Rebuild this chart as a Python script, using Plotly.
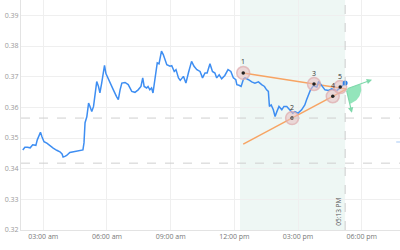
import plotly.graph_objects as go
import numpy as np
import pandas as pd

DAY = "2024-01-01 "

# ---- price series (time of day, price) ----
times = ["02:02","02:08","02:15","02:23","02:30","02:39","02:43","02:46","02:52","02:56",
         "02:58","03:02","03:10","03:19","03:24","03:28","03:38","03:47","03:53","03:56",
         "04:01","04:06","04:15","04:24","04:34","04:43","04:52","04:55","04:58","05:03",
         "05:05","05:08","05:12","05:17","05:22","05:26","05:31","05:36","05:40","05:45",
         "05:50","05:53","05:57","06:02","06:09","06:18","06:27","06:32","06:37","06:42",
         "06:51","07:00","07:10","07:19","07:28","07:36","07:41","07:45","07:52","07:56",
         "08:01","08:06","08:10","08:15","08:22","08:27","08:34","08:39","08:49","08:58",
         "09:03","09:10","09:15","09:22","09:27","09:36","09:43","09:50","09:59","10:06",
         "10:14","10:23","10:30","10:37","10:43","10:51","10:58","11:05","11:10","11:17",
         "11:24","11:33","11:42","11:50","11:57","12:04","12:07","12:13","12:19","12:26",
         "12:30","12:40","12:49","12:58","13:08","13:17","13:25","13:31","13:36","13:39",
         "13:44","13:50","13:55","14:00","14:06","14:14","14:20","14:28","14:37","14:45",
         "14:51","15:00","15:10","15:19","15:24","15:28","15:35","15:43","15:53","15:58",
         "16:04","16:12","16:16","16:26","16:35","16:49","16:59","17:08","17:13"]
prices = [0.3461,0.3470,0.3470,0.3468,0.3478,0.3476,0.3494,0.3505,0.3519,0.3505,
          0.3500,0.3488,0.3483,0.3474,0.3469,0.3467,0.3460,0.3455,0.3448,0.3438,
          0.3440,0.3443,0.3453,0.3455,0.3458,0.3460,0.3461,0.3484,0.3550,0.3569,
          0.3586,0.3614,0.3603,0.3586,0.3603,0.3647,0.3684,0.3668,0.3647,0.3679,
          0.3723,0.3737,0.3710,0.3696,0.3679,0.3657,0.3635,0.3625,0.3657,0.3679,
          0.3681,0.3674,0.3652,0.3649,0.3657,0.3668,0.3696,0.3668,0.3663,0.3668,
          0.3657,0.3663,0.3647,0.3696,0.3745,0.3742,0.3783,0.3772,0.3739,0.3734,
          0.3736,0.3717,0.3723,0.3696,0.3688,0.3701,0.3679,0.3712,0.3750,0.3734,
          0.3723,0.3717,0.3696,0.3712,0.3712,0.3742,0.3717,0.3712,0.3696,0.3706,
          0.3693,0.3704,0.3723,0.3717,0.3696,0.3690,0.3674,0.3672,0.3668,0.3693,
          0.3696,0.3690,0.3683,0.3679,0.3683,0.3674,0.3668,0.3657,0.3652,0.3603,
          0.3608,0.3592,0.3570,0.3586,0.3603,0.3592,0.3603,0.3603,0.3592,0.3581,
          0.3586,0.3581,0.3592,0.3608,0.3625,0.3638,0.3657,0.3670,0.3666,0.3684,
          0.3674,0.3664,0.3657,0.3655,0.3660,0.3654,0.3664,0.3674,0.3679]

# ---- pattern points ----
pt_labels = ["1", "2", "3", "4", "5"]
pt_times = ["12:25", "14:43", "15:45", "16:38", "16:59"]
pt_prices = [0.3712, 0.3565, 0.3676, 0.3636, 0.3666]

level_lines = [0.3565, 0.3418]
zone_start = "12:16"
now_time = "17:13"
now_label = "05:13 PM"
arrow_end_times = ["18:29", "17:32"]
arrow_end_prices = [0.3690, 0.3582]
side_marker_price = 0.3487

x_tickvals = ["03:00", "06:00", "09:00", "12:00", "15:00", "18:00"]
x_ticktext = ["03:00 am", "06:00 am", "09:00 am", "12:00 pm", "03:00 pm", "06:00 pm"]
y_tickvals = [0.32, 0.33, 0.34, 0.35, 0.36, 0.37, 0.38, 0.39]
x_range = ["01:57", "19:48"]
y_range = [0.32, 0.395]

# ---- layout sizes ----
W, H = 400, 250
ML, MR, MT, MB = 21, 0, 0, 20

BASE = pd.Timestamp(DAY + "00:00")


def ts(hm):
    return pd.Timestamp(DAY + hm)


def mins(hm):
    return (ts(hm) - BASE).total_seconds() / 60.0


def from_mins(m):
    return BASE + pd.Timedelta(minutes=float(m))


# pixel scales of the plot area
px_per_min = (W - ML - MR) / (mins(x_range[1]) - mins(x_range[0]))
px_per_val = (H - MT - MB) / (y_range[1] - y_range[0])

# trend lines through points 1-3 (upper) and 2-4 (lower)
pm = [mins(t) for t in pt_times]
s_top = (pt_prices[2] - pt_prices[0]) / (pm[2] - pm[0])
s_bot = (pt_prices[3] - pt_prices[1]) / (pm[3] - pm[1])
b_top = pt_prices[0] - s_top * pm[0]
b_bot = pt_prices[1] - s_bot * pm[1]
tc = (b_bot - b_top) / (s_top - s_bot)
vc = s_top * tc + b_top
t_start = pm[0]

fig = go.Figure()

orange = "#f7a463"
fig.add_trace(go.Scatter(x=[from_mins(t_start), from_mins(tc)],
                         y=[s_top * t_start + b_top, vc], mode="lines",
                         line=dict(color=orange, width=1.5), hoverinfo="skip"))
fig.add_trace(go.Scatter(x=[from_mins(t_start), from_mins(tc)],
                         y=[s_bot * t_start + b_bot, vc], mode="lines",
                         line=dict(color=orange, width=1.5), hoverinfo="skip"))

# price line
fig.add_trace(go.Scatter(x=[ts(t) for t in times], y=prices, mode="lines",
                         line=dict(color="#3e8ef2", width=1.5), hoverinfo="skip"))

# green sector
a_ang = []
for t, v in zip(arrow_end_times, arrow_end_prices):
    dx = (mins(t) - tc) * px_per_min
    dy = -(v - vc) * px_per_val
    a_ang.append(np.arctan2(dy, dx))
r = 15.0
angs = np.linspace(a_ang[0], a_ang[1], 30)
sx = [from_mins(tc)] + [from_mins(tc + r * np.cos(a) / px_per_min) for a in angs] + [from_mins(tc)]
sy = [vc] + [vc - r * np.sin(a) / px_per_val for a in angs] + [vc]
fig.add_trace(go.Scatter(x=sx, y=sy, mode="lines", fill="toself",
                         fillcolor="rgba(120,222,170,0.8)", line=dict(width=0),
                         hoverinfo="skip"))

# pink halos + center dots
fig.add_trace(go.Scatter(x=[ts(t) for t in pt_times], y=pt_prices, mode="markers",
                         marker=dict(size=13, color="rgba(232,190,192,0.55)",
                                     line=dict(color="rgba(222,170,172,0.7)", width=1.5)),
                         hoverinfo="skip"))
fig.add_trace(go.Scatter(x=[ts(t) for t in pt_times], y=pt_prices, mode="markers",
                         marker=dict(size=3.5, color="#222"), hoverinfo="skip"))

# end dot
fig.add_trace(go.Scatter(x=[ts(times[-1])], y=[prices[-1]], mode="markers",
                         marker=dict(size=5, color="#2f7fe8"), hoverinfo="skip"))

shapes = [
    dict(type="rect", xref="x", yref="paper", x0=ts(zone_start), x1=ts(now_time),
         y0=0, y1=1, fillcolor="#eef7f4", line=dict(width=0), layer="below"),
    dict(type="line", xref="x", yref="paper", x0=ts(now_time), x1=ts(now_time),
         y0=0, y1=1, line=dict(color="#cccccc", width=1, dash="dash")),
    dict(type="rect", xref="paper", yref="y", x0=0.99, x1=1.0,
         y0=side_marker_price - 0.0003, y1=side_marker_price + 0.0003,
         fillcolor="#cfe2fa", line=dict(width=0)),
]
for lv in level_lines:
    shapes.append(dict(type="line", xref="paper", yref="y", x0=0, x1=1, y0=lv, y1=lv,
                       line=dict(color="#cfcfcf", width=1, dash="dash")))

annotations = []
for lab, t, v in zip(pt_labels, pt_times, pt_prices):
    annotations.append(dict(x=ts(t), y=v, text=lab, showarrow=False, yshift=11,
                            font=dict(size=7, color="#333")))
for t, v in zip(arrow_end_times, arrow_end_prices):
    annotations.append(dict(x=ts(t), y=v, ax=from_mins(tc), ay=vc, axref="x", ayref="y",
                            xref="x", yref="y", text="", showarrow=True, arrowhead=2,
                            arrowsize=0.9, arrowwidth=1.2, arrowcolor="#7fd8ab"))
annotations.append(dict(x=ts(now_time), y=0, xref="x", yref="paper", text=now_label,
                        textangle=-90, showarrow=False, xanchor="right", yanchor="bottom",
                        xshift=-1, yshift=2, font=dict(size=6.5, color="#555")))

fig.update_layout(
    width=W, height=H,
    margin=dict(l=ML, r=MR, t=MT, b=MB),
    paper_bgcolor="white", plot_bgcolor="white",
    showlegend=False,
    font=dict(family="Open Sans, sans-serif", size=7, color="#999"),
    shapes=shapes, annotations=annotations,
    xaxis=dict(range=[ts(x_range[0]), ts(x_range[1])],
               tickvals=[ts(t) for t in x_tickvals], ticktext=x_ticktext,
               showgrid=True, gridcolor="#efefef", gridwidth=1,
               showline=True, linecolor="#e3e3e3", zeroline=False,
               ticks="", tickfont=dict(size=7, color="#777")),
    yaxis=dict(range=y_range, tickvals=y_tickvals, tickformat=".2f",
               showgrid=True, gridcolor="#efefef", gridwidth=1,
               showline=True, linecolor="#e3e3e3", zeroline=False,
               ticks="", tickfont=dict(size=7, color="#999")),
)

fig.write_html("out.html")
